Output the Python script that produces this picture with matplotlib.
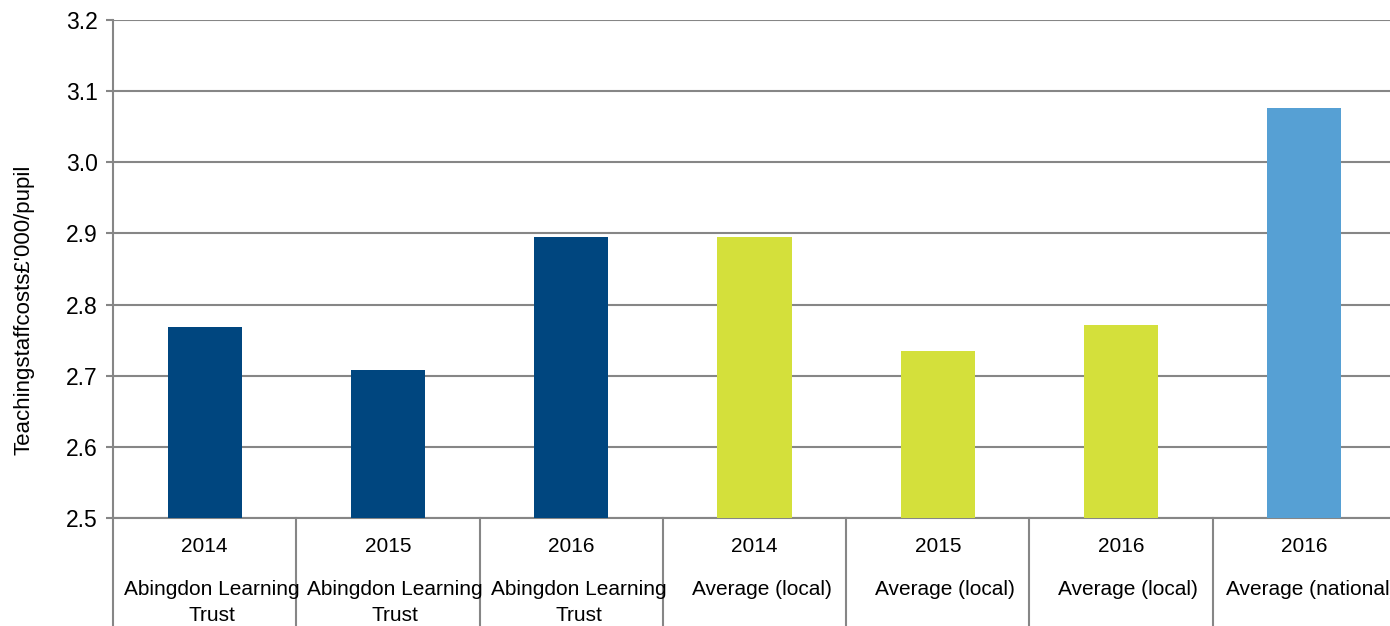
import matplotlib
matplotlib.use("Agg")
import matplotlib.pyplot as plt
import numpy as np

years = ["2014", "2015", "2016", "2014", "2015", "2016", "2016"]
groups = ["Abingdon Learning\nTrust", "Abingdon Learning\nTrust", "Abingdon Learning\nTrust",
          "Average (local)", "Average (local)", "Average (local)", "Average (national)"]
values = [2.768, 2.708, 2.895, 2.895, 2.735, 2.771, 3.077]
colors = ["#00467f", "#00467f", "#00467f", "#d4e03b", "#d4e03b", "#d4e03b", "#56a0d4"]
yticks = [2.5, 2.6, 2.7, 2.8, 2.9, 3.0, 3.1, 3.2]

plt.rcParams['font.family'] = ['Liberation Sans', 'DejaVu Sans']
grey = "#868686"

fig = plt.figure(figsize=(13.9, 6.26), dpi=100)
ax = fig.add_axes([0.0813, 0.1725, 0.923, 0.7955])

x = np.arange(len(values))
ax.bar(x, values, width=0.404, color=colors, zorder=3)
ax.set_xlim(-0.5, len(values) - 0.5)
ax.set_ylim(2.5, 3.2)
ax.set_yticks(yticks)
ax.set_yticklabels(["%.1f" % v for v in yticks], fontsize=16.5)
ax.yaxis.grid(True, color=grey, linewidth=1.5, zorder=0)
ax.tick_params(axis='y', length=5, width=1.5, color=grey, pad=6)
ax.set_xticks([])
for s in ["top", "right"]:
    ax.spines[s].set_visible(False)
for s in ["left", "bottom"]:
    ax.spines[s].set_color(grey)
    ax.spines[s].set_linewidth(1.5)
ax.set_ylabel("Teachingstaffcosts£'000/pupil", fontsize=16)
ax.yaxis.set_label_coords(-0.061, 0.418)

# multi-level category axis
trans = ax.get_xaxis_transform()
for b in np.arange(-0.5, len(values), 1.0):
    ax.plot([b, b], [0, -0.3], color=grey, linewidth=1.5, transform=trans, clip_on=False)
for i, (yr, g) in enumerate(zip(years, groups)):
    ax.text(i, -0.057, yr, transform=trans, ha='center', va='center', fontsize=15)
    for j, line in enumerate(g.split("\n")):
        ax.text(i + 0.04, -0.143 - j * 0.053, line, transform=trans,
                ha='center', va='center', fontsize=15)

fig.savefig("out.png", dpi=100)
